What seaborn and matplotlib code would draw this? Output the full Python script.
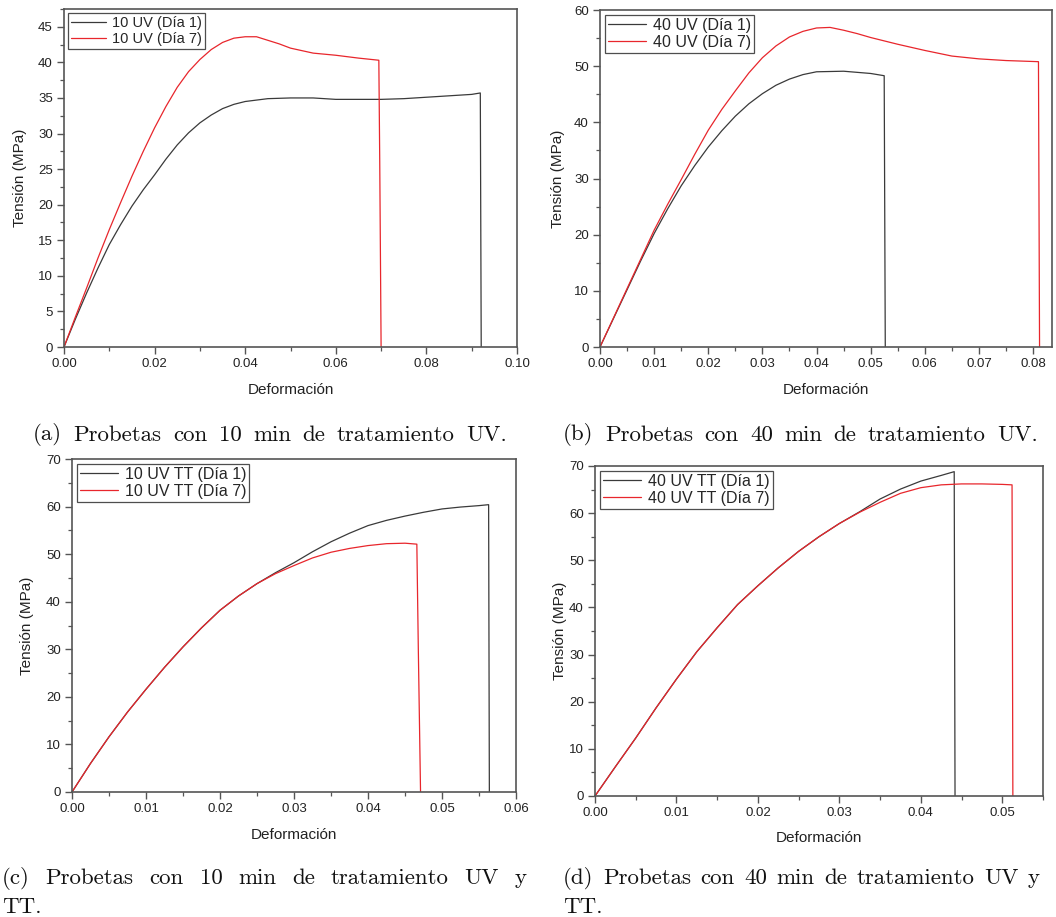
import matplotlib
matplotlib.use("Agg")
import matplotlib.pyplot as plt
from matplotlib.ticker import MultipleLocator, FormatStrFormatter
import seaborn as sns
import pandas as pd

# ---------------- data ----------------
# (a) 10 min UV
a_x_d1 = [0, 0.0025, 0.005, 0.0075, 0.01, 0.0125, 0.015, 0.0175, 0.02, 0.0225, 0.025, 0.0275,
          0.03, 0.0325, 0.035, 0.0375, 0.04, 0.045, 0.05, 0.055, 0.06, 0.065, 0.07, 0.075,
          0.08, 0.085, 0.09, 0.0919, 0.0921]
a_y_d1 = [0, 3.9, 7.6, 11.1, 14.4, 17.2, 19.8, 22.1, 24.2, 26.4, 28.4, 30.1,
          31.5, 32.6, 33.5, 34.1, 34.5, 34.9, 35.0, 35.0, 34.8, 34.8, 34.8, 34.9,
          35.1, 35.3, 35.5, 35.7, 0]
a_x_d7 = [0, 0.0025, 0.005, 0.0075, 0.01, 0.0125, 0.015, 0.0175, 0.02, 0.0225, 0.025, 0.0275,
          0.03, 0.0325, 0.035, 0.0375, 0.04, 0.0425, 0.045, 0.0475, 0.05, 0.055, 0.06, 0.065,
          0.0695, 0.0697, 0.0700]
a_y_d7 = [0, 4.2, 8.3, 12.5, 16.5, 20.3, 24.0, 27.5, 30.8, 33.8, 36.5, 38.7,
          40.4, 41.8, 42.8, 43.4, 43.6, 43.6, 43.1, 42.6, 42.0, 41.3, 41.0, 40.6,
          40.3, 26.0, 0]

# (b) 40 min UV
b_x_d1 = [0, 0.0025, 0.005, 0.0075, 0.01, 0.0125, 0.015, 0.0175, 0.02, 0.0225, 0.025, 0.0275,
          0.03, 0.0325, 0.035, 0.0375, 0.04, 0.045, 0.05, 0.0525, 0.0527]
b_y_d1 = [0, 5.1, 10.2, 15.3, 20.2, 24.6, 28.7, 32.3, 35.6, 38.5, 41.1, 43.3,
          45.1, 46.6, 47.7, 48.5, 49.0, 49.1, 48.7, 48.3, 0]
b_x_d7 = [0, 0.0025, 0.005, 0.0075, 0.01, 0.0125, 0.015, 0.0175, 0.02, 0.0225, 0.025, 0.0275,
          0.03, 0.0325, 0.035, 0.0375, 0.04, 0.0425, 0.045, 0.0475, 0.05, 0.055, 0.06, 0.065,
          0.07, 0.075, 0.081, 0.0812]
b_y_d7 = [0, 5.2, 10.4, 15.6, 20.8, 25.4, 29.8, 34.3, 38.6, 42.3, 45.6, 48.8,
          51.5, 53.6, 55.2, 56.2, 56.8, 56.9, 56.4, 55.8, 55.1, 53.9, 52.8, 51.8,
          51.3, 51.0, 50.8, 0]

# (c) 10 min UV + TT
c_x_d1 = [0, 0.0025, 0.005, 0.0075, 0.01, 0.0125, 0.015, 0.0175, 0.02, 0.0225, 0.025, 0.0275,
          0.03, 0.0325, 0.035, 0.0375, 0.04, 0.0425, 0.045, 0.0475, 0.05, 0.0525, 0.055,
          0.0563, 0.0564]
c_y_d1 = [0, 6.0, 11.6, 16.8, 21.6, 26.2, 30.5, 34.5, 38.2, 41.2, 43.8, 46.1,
          48.2, 50.5, 52.6, 54.4, 56.0, 57.1, 58.0, 58.8, 59.5, 59.9, 60.2,
          60.4, 0]
c_x_d7 = [0, 0.0025, 0.005, 0.0075, 0.01, 0.0125, 0.015, 0.0175, 0.02, 0.0225, 0.025, 0.0275,
          0.03, 0.0325, 0.035, 0.0375, 0.04, 0.0425, 0.045, 0.0466, 0.0468, 0.0471]
c_y_d7 = [0, 6.0, 11.6, 16.8, 21.6, 26.2, 30.5, 34.5, 38.2, 41.2, 43.8, 45.9,
          47.6, 49.2, 50.4, 51.2, 51.8, 52.2, 52.3, 52.1, 30.0, 0]

# (d) 40 min UV + TT
d_x_d1 = [0, 0.0025, 0.005, 0.0075, 0.01, 0.0125, 0.015, 0.0175, 0.02, 0.0225, 0.025, 0.0275,
          0.03, 0.0325, 0.035, 0.0375, 0.04, 0.0425, 0.0441, 0.0442]
d_y_d1 = [0, 6.2, 12.3, 18.7, 24.8, 30.6, 35.7, 40.6, 44.6, 48.4, 51.9, 55.0,
          57.8, 60.3, 63.0, 65.1, 66.8, 68.0, 68.8, 0]
d_x_d7 = [0, 0.0025, 0.005, 0.0075, 0.01, 0.0125, 0.015, 0.0175, 0.02, 0.0225, 0.025, 0.0275,
          0.03, 0.0325, 0.035, 0.0375, 0.04, 0.0425, 0.045, 0.0475, 0.05, 0.0512, 0.0513]
d_y_d7 = [0, 6.2, 12.3, 18.7, 24.8, 30.6, 35.7, 40.6, 44.6, 48.4, 51.9, 55.0,
          57.8, 60.2, 62.3, 64.2, 65.4, 66.0, 66.2, 66.2, 66.1, 66.0, 0]

labels_a = ["10 UV (Día 1)", "10 UV (Día 7)"]
labels_b = ["40 UV (Día 1)", "40 UV (Día 7)"]
labels_c = ["10 UV TT (Día 1)", "10 UV TT (Día 7)"]
labels_d = ["40 UV TT (Día 1)", "40 UV TT (Día 7)"]

captions = {
    "a": "(a) Probetas con 10 min de tratamiento UV.",
    "b": "(b) Probetas con 40 min de tratamiento UV.",
    "c": ["(c) Probetas con 10 min de tratamiento UV y", "TT."],
    "d": ["(d) Probetas con 40 min de tratamiento UV y", "TT."],
}

# ---------------- style ----------------
sns.set_style("ticks")
plt.rcParams["font.family"] = ["Liberation Sans", "DejaVu Sans"]

W, H = 1056, 917
fig = plt.figure(figsize=(W / 100, H / 100), dpi=100)

BLACK = "#3a3a3a"
RED = "#e8262c"
SPINE = "#555555"
TXT = "#222222"


def px_axes(l, t, r, b):
    return fig.add_axes([l / W, 1 - b / H, (r - l) / W, (b - t) / H])


def draw_panel(ax, box, xs1, ys1, xs7, ys7, labels, xlim, ylim, xmaj, xmin, ymaj, ymin,
               xlabel_y, ylabel_x, legsize):
    l, t, r, b = box
    df1 = pd.DataFrame({"Deformación": xs1, "Tensión (MPa)": ys1})
    df7 = pd.DataFrame({"Deformación": xs7, "Tensión (MPa)": ys7})
    sns.lineplot(data=df1, x="Deformación", y="Tensión (MPa)", sort=False, estimator=None,
                 color=BLACK, lw=0.9, label=labels[0], ax=ax)
    sns.lineplot(data=df7, x="Deformación", y="Tensión (MPa)", sort=False, estimator=None,
                 color=RED, lw=0.9, label=labels[1], ax=ax)
    ax.set_xlim(*xlim)
    ax.set_ylim(*ylim)
    ax.xaxis.set_major_locator(MultipleLocator(xmaj))
    ax.xaxis.set_minor_locator(MultipleLocator(xmin))
    ax.yaxis.set_major_locator(MultipleLocator(ymaj))
    ax.yaxis.set_minor_locator(MultipleLocator(ymin))
    ax.xaxis.set_major_formatter(FormatStrFormatter("%.2f"))
    ax.yaxis.set_major_formatter(FormatStrFormatter("%d"))
    ax.tick_params(which="major", direction="out", length=5, width=1.0, color=SPINE,
                   labelsize=9.5, labelcolor=TXT, pad=3)
    ax.tick_params(which="minor", direction="out", length=3, width=0.9, color=SPINE)
    for s in ax.spines.values():
        s.set_color(SPINE)
        s.set_linewidth(1.2)
    ax.set_xlabel("Deformación", fontsize=11, color=TXT)
    ax.set_ylabel("Tensión (MPa)", fontsize=11, color=TXT)
    ax.xaxis.set_label_coords(0.5, (b - xlabel_y) / (b - t))
    ax.xaxis.label.set_va("center")
    ax.yaxis.set_label_coords((ylabel_x - l) / (r - l), 0.5)
    ax.yaxis.label.set_va("center")
    leg = ax.legend(loc="upper left", frameon=True, fancybox=False, fontsize=legsize,
                    handlelength=2.4, handletextpad=0.4, borderpad=0.2,
                    labelspacing=0.12, borderaxespad=0.3)
    leg.get_frame().set_edgecolor(TXT)
    leg.get_frame().set_linewidth(0.9)
    for line in leg.get_lines():
        line.set_linewidth(0.9)


box_a = (64, 9, 517, 347)
ax_a = px_axes(*box_a)
draw_panel(ax_a, box_a, a_x_d1, a_y_d1, a_x_d7, a_y_d7, labels_a, (0, 0.10), (0, 47.5),
           0.02, 0.01, 5, 2.5, 390, 20, 10.5)

box_b = (600, 10, 1052, 347)
ax_b = px_axes(*box_b)
draw_panel(ax_b, box_b, b_x_d1, b_y_d1, b_x_d7, b_y_d7, labels_b, (0, 0.0835), (0, 60),
           0.01, 0.005, 10, 5, 390, 558, 11.5)

box_c = (72, 459, 516, 792)
ax_c = px_axes(*box_c)
draw_panel(ax_c, box_c, c_x_d1, c_y_d1, c_x_d7, c_y_d7, labels_c, (0, 0.06), (0, 70),
           0.01, 0.005, 10, 5, 835, 27, 11.5)

box_d = (595, 466, 1043, 796)
ax_d = px_axes(*box_d)
draw_panel(ax_d, box_d, d_x_d1, d_y_d1, d_x_d7, d_y_d7, labels_d, (0, 0.055), (0, 70),
           0.01, 0.005, 10, 5, 838, 560, 11.5)

# ---------------- captions ----------------
CAP_FONT = dict(family=["cmr10", "DejaVu Serif"], fontsize=16.5, color="#111111")
fig.canvas.draw()
renderer = fig.canvas.get_renderer()


def caption_line(text, x0, x1, y):
    """Place a caption line, spreading the words to span x0..x1 (justified)."""
    words = text.split(" ")
    objs = [fig.text(0, 1 - y / H, w, ha="left", va="center", **CAP_FONT) for w in words]
    widths = [o.get_window_extent(renderer).width for o in objs]
    gap = (x1 - x0 - sum(widths)) / (len(words) - 1)
    x = x0
    for o, w in zip(objs, widths):
        o.set_x(x / W)
        x += w + gap


caption_line(captions["a"], 33, 507, 435)
caption_line(captions["b"], 563, 1038, 435)
caption_line(captions["c"][0], 2, 527, 878)
fig.text(2 / W, 1 - 907 / H, captions["c"][1], ha="left", va="center", **CAP_FONT)
caption_line(captions["d"][0], 563, 1040, 878)
fig.text(563 / W, 1 - 907 / H, captions["d"][1], ha="left", va="center", **CAP_FONT)

fig.savefig("out.png", dpi=100)
